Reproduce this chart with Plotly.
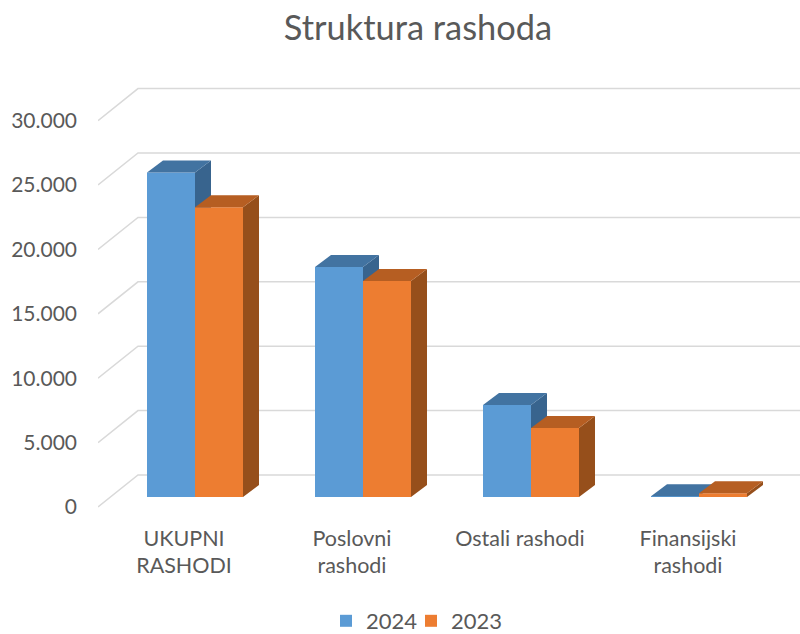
import plotly.graph_objects as go

categories = ["UKUPNI<br>RASHODI", "Poslovni<br>rashodi", "Ostali rashodi", "Finansijski<br>rashodi"]
values_2024 = [25200, 17860, 7140, 60]
values_2023 = [22500, 16770, 5360, 300]
y_ticks = [0, 5000, 10000, 15000, 20000, 25000, 30000]
y_labels = ["0", "5.000", "10.000", "15.000", "20.000", "25.000", "30.000"]

W, H = 800, 650
L, R, T, B = 98, 800, 70, 520
PX_PER_CAT = 168.0
PX_PER_VAL = 0.01288
ORIGIN_X = 195.0
ORIGIN_Y = 497.0
BAR_PX = 48.0

def px_x(p):
    return (p - ORIGIN_X) / PX_PER_CAT

def px_y(p):
    return (ORIGIN_Y - p) / PX_PER_VAL

bar_w = BAR_PX / PX_PER_CAT
dx = 16.0 / PX_PER_CAT
dv = 12.0 / PX_PER_VAL
cats = list(range(len(categories)))
xr = [px_x(L), px_x(R)]
yr = [px_y(B), px_y(T)]

# wall offsets relative to the bar base plane
front_v = -10.0 / PX_PER_VAL
back_v = 22.0 / PX_PER_VAL
back_x = px_x(138)

grid_x, grid_y = [], []
for t in y_ticks:
    grid_x += [xr[0], back_x, xr[1], None]
    grid_y += [t + front_v, t + back_v, t + back_v, None]

def faces(vals, x_start):
    sx, sy, tx, ty = [], [], [], []
    for c, v in zip(cats, vals):
        a = c + x_start
        b = a + bar_w
        sx += [b, b + dx, b + dx, b, b, None]
        sy += [0, dv, v + dv, v, 0, None]
        tx += [a, b, b + dx, a + dx, a, None]
        ty += [v, v, v + dv, v + dv, v, None]
    return sx, sy, tx, ty

fig = go.Figure()
fig.add_trace(go.Scatter(x=grid_x, y=grid_y, mode="lines", line=dict(color="#d9d9d9", width=1.5),
                         showlegend=False, hoverinfo="skip", xaxis="x", yaxis="y"))

def add_series(name, vals, start, front, top, side, xa, ya, lg):
    fig.add_trace(go.Bar(x=cats, y=vals, name=name, width=bar_w, offset=start, legend=lg,
                         marker=dict(color=front, line=dict(width=0)), xaxis=xa, yaxis=ya))
    sx, sy, tx, ty = faces(vals, start)
    fig.add_trace(go.Scatter(x=sx, y=sy, mode="lines", fill="toself", fillcolor=side, line=dict(width=0),
                             showlegend=False, hoverinfo="skip", xaxis=xa, yaxis=ya))
    fig.add_trace(go.Scatter(x=tx, y=ty, mode="lines", fill="toself", fillcolor=top, line=dict(width=0),
                             showlegend=False, hoverinfo="skip", xaxis=xa, yaxis=ya))

add_series("2024", values_2024, -bar_w, "#5B9BD5", "#4273A1", "#38648E", "x2", "y2", "legend")
add_series("2023", values_2023, 0.0, "#ED7D31", "#B65E22", "#964F1B", "x3", "y3", "legend2")

FONT = "Lato, Carlito, Calibri, sans-serif"
TXT = "#595959"
hidden = dict(visible=False, fixedrange=True)

def legend_at(px):
    return dict(orientation="h", x=(px - L) / (R - L), xanchor="left", y=(B - 621) / (B - T), yanchor="middle",
                font=dict(size=22, color=TXT), bgcolor="rgba(0,0,0,0)", itemclick=False, itemdoubleclick=False)

fig.update_layout(
    width=W, height=H, autosize=False,
    margin=dict(l=L, r=W - R, t=T, b=H - B, pad=0, autoexpand=False),
    paper_bgcolor="white", plot_bgcolor="white",
    barmode="overlay",
    font=dict(family=FONT, color=TXT, size=21),
    title=dict(text="Struktura rashoda", x=418 / W, xref="container", xanchor="center",
               y=1 - 28 / H, yref="container", yanchor="middle",
               font=dict(size=34.4, color=TXT, family=FONT)),
    xaxis=dict(range=xr, tickmode="array", tickvals=[c - 11.0 / PX_PER_CAT for c in cats], ticktext=categories,
               showgrid=False, zeroline=False, showline=False, ticks="", tickangle=0, ticklabelstandoff=3,
               tickfont=dict(size=21.5, color=TXT)),
    yaxis=dict(range=yr, tickmode="array", tickvals=[t + front_v for t in y_ticks], ticktext=y_labels,
               showgrid=False, zeroline=False, showline=False, ticks="", ticklabelstandoff=20,
               tickfont=dict(size=21, color=TXT)),
    xaxis2=dict(range=xr, overlaying="x", anchor="y2", **hidden),
    yaxis2=dict(range=yr, overlaying="y", anchor="x2", **hidden),
    xaxis3=dict(range=xr, overlaying="x", anchor="y3", **hidden),
    yaxis3=dict(range=yr, overlaying="y", anchor="x3", **hidden),
    legend=legend_at(326),
    legend2=legend_at(411),
)
fig.write_html("out.html", config=dict(displayModeBar=False),
               post_script="document.body.style.margin='0';document.documentElement.style.overflow='hidden';")
